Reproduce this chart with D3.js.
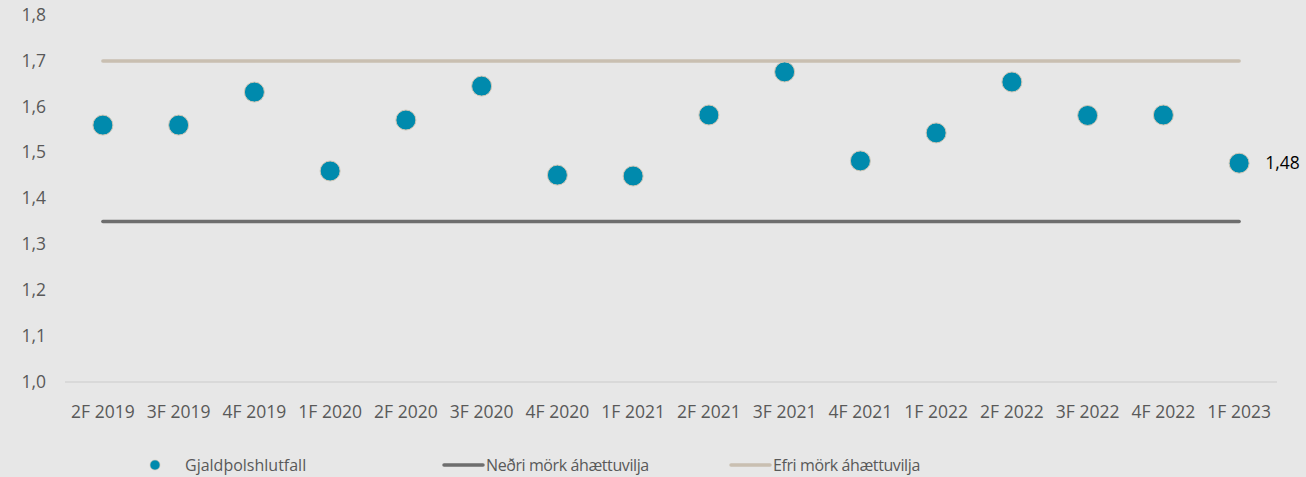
<!DOCTYPE html>
<html><head><meta charset="utf-8">
<script src="https://cdn.jsdelivr.net/npm/d3@7"></script>
<style>body{margin:0;background:#e7e7e7;}svg{display:block;font-family:"Open Sans",sans-serif;}</style>
</head><body><svg id="c" width="1306" height="477"></svg>
<script>
const categories = ["2F 2019","3F 2019","4F 2019","1F 2020","2F 2020","3F 2020","4F 2020","1F 2021","2F 2021","3F 2021","4F 2021","1F 2022","2F 2022","3F 2022","4F 2022","1F 2023"];
const ratio = [1.56,1.56,1.632,1.46,1.571,1.645,1.451,1.449,1.582,1.676,1.482,1.543,1.654,1.581,1.582,1.477];
const lowerLimit = categories.map(() => 1.35);
const upperLimit = categories.map(() => 1.7);
const yTicks = [1.0,1.1,1.2,1.3,1.4,1.5,1.6,1.7,1.8];
const lastLabel = "1,48";

const FS = 17.5;
const LFS = 16;
const svg = d3.select("#c");
svg.append("rect").attr("width",1306).attr("height",477).attr("fill","#e7e7e7");
const x = d3.scaleBand().domain(categories).range([65,1277]);
const y = d3.scaleLinear().domain([1.0,1.8]).range([382,15]);
const fmt = v => d3.format(".1f")(v).replace(".",",");

const ya = svg.append("g").attr("transform","translate(46,0)")
  .call(d3.axisLeft(y).tickValues(yTicks).tickFormat(fmt).tickSize(0).tickPadding(0));
ya.select(".domain").remove();
ya.selectAll("text").attr("font-size",FS).attr("fill","#595959").attr("font-family","Open Sans").attr("dy","0.3em");

svg.append("line").attr("x1",65).attr("x2",1277).attr("y1",y(1.0)).attr("y2",y(1.0)).attr("stroke","#d5d5d5").attr("stroke-width",1.5);

const xa = svg.append("g").attr("transform",`translate(0,${y(1.0)})`)
  .call(d3.axisBottom(x).tickSize(0).tickPadding(24));
xa.select(".domain").remove();
xa.selectAll("text").attr("font-size",FS).attr("fill","#595959").attr("font-family","Open Sans");

const line = d3.line().x((d,i)=>x(categories[i])+x.bandwidth()/2).y(d=>y(d));
svg.append("path").datum(lowerLimit).attr("d",line).attr("fill","none").attr("stroke","#6e6e6e").attr("stroke-width",3.5).attr("stroke-linecap","round");
svg.append("path").datum(upperLimit).attr("d",line).attr("fill","none").attr("stroke","#c9bfb1").attr("stroke-width",3.5).attr("stroke-linecap","round");

svg.selectAll("circle.pt").data(ratio).join("circle").attr("class","pt")
  .attr("cx",(d,i)=>x(categories[i])+x.bandwidth()/2).attr("cy",d=>y(d)).attr("r",10)
  .attr("fill","#008aad").attr("stroke","#cfc6b6").attr("stroke-width",1);

const li = ratio.length-1;
svg.append("text").attr("x",x(categories[li])+x.bandwidth()/2+26).attr("y",y(ratio[li])).attr("dy","0.35em")
  .attr("font-size",FS).attr("fill","#000").text(lastLabel);

// legend
const lg = svg.append("g");
const ly = 465;
lg.append("circle").attr("cx",155).attr("cy",ly).attr("r",5).attr("fill","#008aad").attr("stroke","#cfc6b6").attr("stroke-width",0.6);
lg.append("text").attr("x",185).attr("y",ly).attr("dy","0.35em").attr("font-size",LFS).attr("fill","#595959").text("Gjaldþolshlutfall");
lg.append("line").attr("x1",444).attr("x2",483).attr("y1",ly).attr("y2",ly).attr("stroke","#6e6e6e").attr("stroke-width",3.5).attr("stroke-linecap","round");
lg.append("text").attr("x",486).attr("y",ly).attr("dy","0.35em").attr("font-size",LFS).attr("letter-spacing",-0.4).attr("fill","#595959").text("Neðri mörk áhættuvilja");
lg.append("line").attr("x1",731).attr("x2",770).attr("y1",ly).attr("y2",ly).attr("stroke","#c9bfb1").attr("stroke-width",3.5).attr("stroke-linecap","round");
lg.append("text").attr("x",773).attr("y",ly).attr("dy","0.35em").attr("font-size",LFS).attr("letter-spacing",-0.4).attr("fill","#595959").text("Efri mörk áhættuvilja");
</script></body></html>
